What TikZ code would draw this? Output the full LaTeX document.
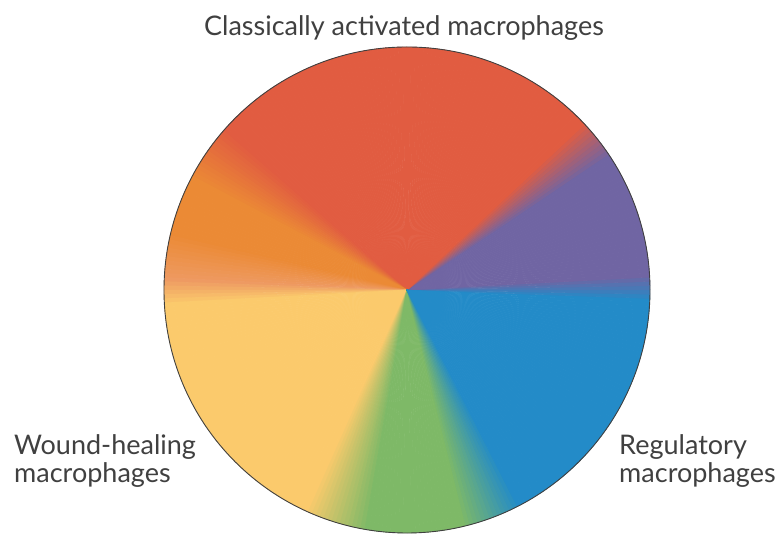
\documentclass[tikz,border=0pt]{standalone}
\usepackage{fontspec}
\setmainfont{Lato}

\definecolor{mred}{HTML}{E15C41}
\definecolor{mpurple}{HTML}{7065A3}
\definecolor{mblue}{HTML}{238BC8}
\definecolor{mgreen}{HTML}{7EB967}
\definecolor{myellow}{HTML}{FBCA6C}
\definecolor{morange}{HTML}{EB8A35}
\definecolor{mpale}{HTML}{EE9A62}
\definecolor{labelgray}{HTML}{404040}

\tikzset{
  labeltext/.style={text=labelgray, font=\fontsize{27}{28}\selectfont, inner sep=0pt, align=left},
  rim/.style={draw=black!75, line width=0.9pt}
}

\begin{document}
\begin{tikzpicture}[x=1pt,y=1pt]
    \useasboundingbox (0,0) rectangle (777,534);
    \coordinate (c) at (407,244);

    % colour wheel, one wedge per degree
    \foreach \startang/\stopang/\colA/\colB in {-3/3/mblue/mpurple, 3/33/mpurple/mpurple,
        33/43/mpurple/mred, 43/138/mred/mred, 138/152/mred/morange,
        152/166/morange/morange, 166/177/morange/mpale, 177/183/mpale/myellow,
        183/245/myellow/myellow, 245/260/myellow/mgreen, 260/283/mgreen/mgreen,
        283/297/mgreen/mblue, 297/357/mblue/mblue} {
        \pgfmathtruncatemacro\nsteps{\stopang-\startang-1}
        \foreach \k in {0,...,\nsteps} {
            \pgfmathtruncatemacro\pct{100*\k/(\stopang-\startang)}
            \pgfmathsetmacro\ang{\startang+\k}
            \path[fill=\colB!\pct!\colA, draw=\colB!\pct!\colA, line width=0.4pt]
                (c) -- ++(\ang:243) arc (\ang:\ang+1.1:243) -- cycle;
        }
    }
    \draw[rim] (c) circle (243);

    \node[labeltext, anchor=base] (classic) at (404,498) {Classically activated macrophages};
    \node[labeltext, anchor=base west] (healing) at (14,51) {Wound-healing\\macrophages};
    \node[labeltext, anchor=base west] (regulatory) at (619,51) {Regulatory\\macrophages};
\end{tikzpicture}
\end{document}
